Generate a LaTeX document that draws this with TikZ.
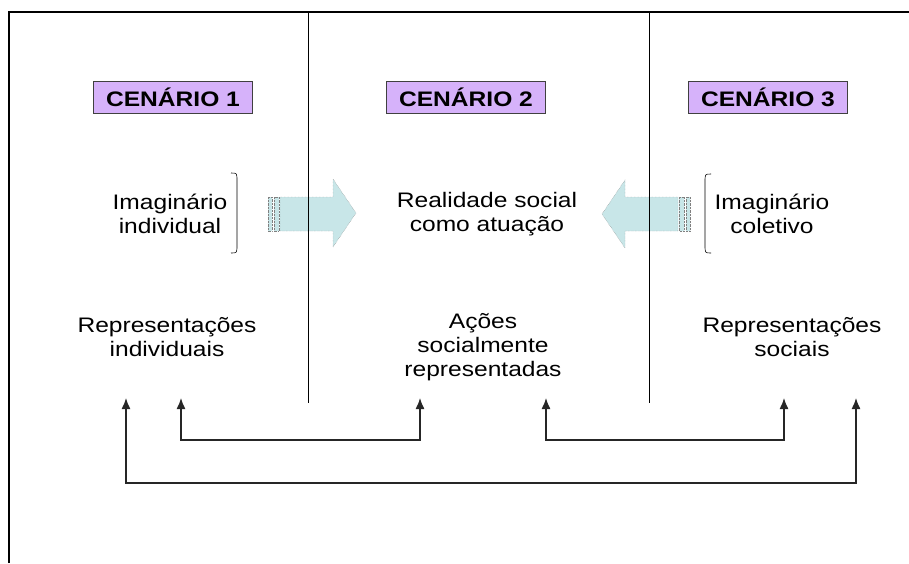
\documentclass[tikz,border=0pt]{standalone}
\usepackage{fontspec}
\usetikzlibrary{arrows.meta}
\setmainfont[FakeStretch=1.17]{Liberation Sans}
\definecolor{lilac}{RGB}{214,178,250}
\definecolor{paleteal}{RGB}{200,230,232}
\begin{document}
\begin{tikzpicture}[
    x=1pt,
    y=-1pt,
    >={Latex[length=11pt,width=9pt]},
    thick,
    txt/.style={align=center, font=\fontsize{21}{24}\selectfont},
    scene/.style={draw=black!75, thin, fill=lilac, minimum width=159pt, minimum height=32pt, inner sep=0pt, font=\fontsize{21}{24}\selectfont\bfseries},
    blockarrow/.style={draw=black!50, densely dotted, thin, fill=paleteal},
    link/.style={<->, line width=1.3pt, black!85}
]
\useasboundingbox (0,0) rectangle (909,563);
% block arrows (under the separators)
\path[blockarrow] (280,197) -- (333,197) -- (333,179) -- (356,213) -- (333,247) -- (333,231) -- (280,231) -- cycle;
\path[blockarrow] (268,197) rectangle (272,231) (274,197) rectangle (279,231);
\path[blockarrow] (678,197) -- (625,197) -- (625,180) -- (602,214) -- (625,248) -- (625,231) -- (678,231) -- cycle;
\path[blockarrow] (690,197) rectangle (686,231) (684,197) rectangle (679,231);
% frame and separators
\draw[line width=1.6pt] (9,563) -- (9,12) -- (909,12);
\draw[thin] (308,12) -- (308,403);
\draw[thin] (649,12) -- (649,403);
% scenarios
\node[scene] (c1) at (173,97) {CENÁRIO 1};
\node[scene] (c2) at (466,97) {CENÁRIO 2};
\node[scene] (c3) at (768,97) {CENÁRIO 3};
\node[txt] (ii) at (170,214) {Imaginário\\individual};
\node[txt] (rs) at (487,214) {Realidade social\\como atuação};
\node[txt] (ic) at (772,214) {Imaginário\\coletivo};
\node[txt] (ri) at (167,337) {Representações\\individuais};
\node[txt] (as) at (483,347) {Ações\\socialmente\\representadas};
\node[txt] (rso) at (792,337) {Representações\\sociais};
% brackets
\draw[semithick] (231,173) .. controls (237,173) .. (237,181) -- (237,245) .. controls (237,253) .. (231,253);
\draw[semithick] (711,174) .. controls (705,174) .. (705,182) -- (705,245) .. controls (705,253) .. (711,253);
% arrow ends
\coordinate (o1) at (126,398);
\coordinate (p1) at (181,398);
\coordinate (p2) at (420,398);
\coordinate (q1) at (546,398);
\coordinate (q2) at (784,398);
\coordinate (o2) at (856,398);
\draw[link] (p1) -- ++(0,42) -| (p2);
\draw[link] (q1) -- ++(0,42) -| (q2);
\draw[link] (o1) -- ++(0,85) -| (o2);
\end{tikzpicture}
\end{document}
